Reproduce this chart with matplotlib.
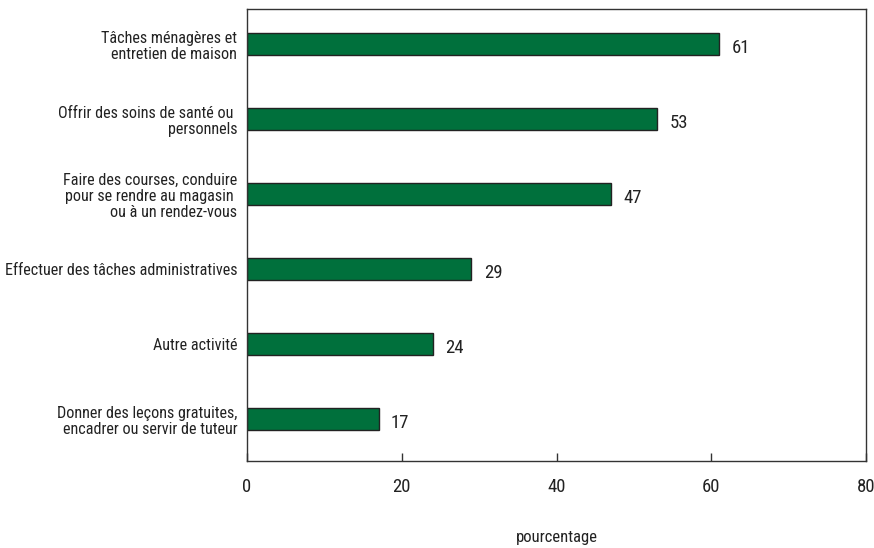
import numpy as np
import matplotlib
matplotlib.use('Agg')
import matplotlib.pyplot as plt

# categories, top to bottom
labels = ["Tâches ménagères et\nentretien de maison",
          "Offrir des soins de santé ou \npersonnels",
          "Faire des courses, conduire\npour se rendre au magasin \nou à un rendez-vous",
          "Effectuer des tâches administratives",
          "Autre activité",
          "Donner des leçons gratuites,\nencadrer ou servir de tuteur"]
values = [61, 53, 47, 29, 24, 17]
xticks = [0, 20, 40, 60, 80]

plt.rcParams['font.family'] = ['Roboto Condensed', 'Liberation Sans Narrow',
                               'DejaVu Sans Condensed', 'Roboto', 'DejaVu Sans']

fig = plt.figure(figsize=(8.74, 5.48), dpi=100)
ax = fig.add_axes([247/874, 1-461/548, (866-247)/874, (461-9)/548])

y = np.arange(len(values))
ax.barh(y, values, height=0.29, color='#00703c', edgecolor='#222222', linewidth=1)
for yi, v in zip(y, values):
    ax.text(v + 1.6, yi + 0.05, str(v), va='center', ha='left', fontsize=13.5, color='#222222')

ax.set_ylim(5.56, -0.47)
ax.set_xlim(0, 80)
ax.set_yticks(y)
ax.set_yticklabels(labels, fontsize=11.6, linespacing=1.12, color='#222222')
ax.tick_params(axis='y', length=0, pad=7)
ax.set_xticks(xticks)
ax.set_xticklabels([str(t) for t in xticks], fontsize=13.5, color='#222222')
ax.tick_params(axis='x', direction='in', length=6, width=1, pad=12, color='#333333')
for s in ax.spines.values():
    s.set_color('#333333')
    s.set_linewidth(1)

ax.set_xlabel('pourcentage', fontsize=12, labelpad=25, color='#222222')

fig.savefig('out.png', dpi=100)
